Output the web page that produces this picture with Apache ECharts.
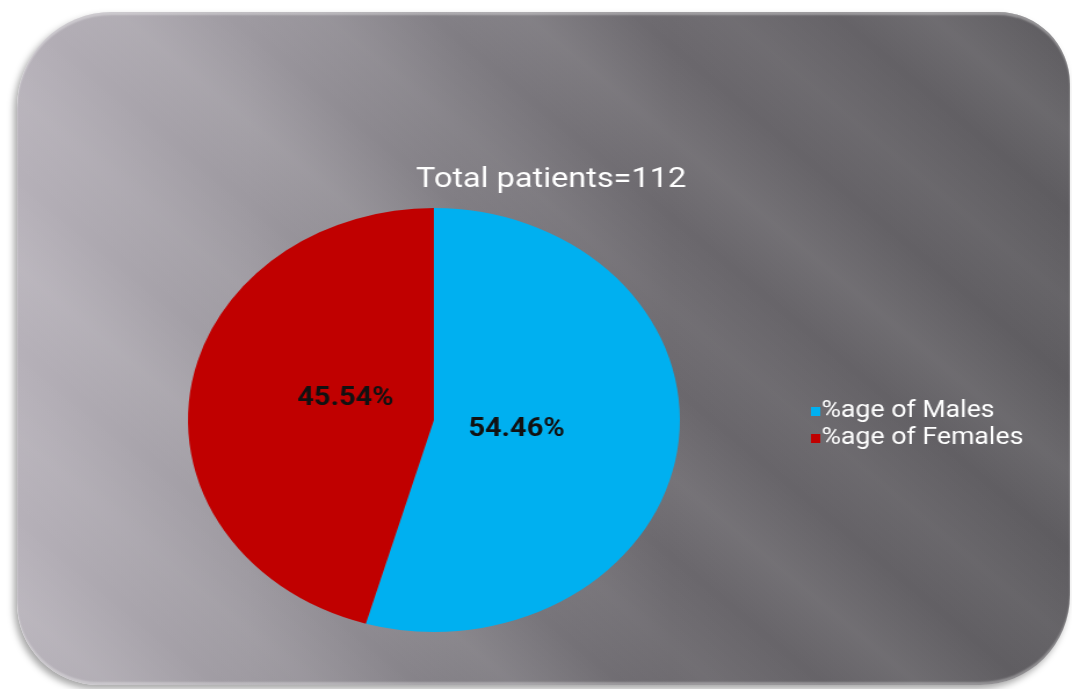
<!DOCTYPE html>
<html>
<head>
<meta charset="utf-8">
<script src="https://cdn.jsdelivr.net/npm/echarts@6/dist/echarts.min.js"></script>
<style>
  html, body { margin: 0; padding: 0; background: #ffffff; }
  #wrap { position: relative; width: 1072px; height: 689px; overflow: hidden; background: #fff; }
  #frame {
    position: absolute; left: 17px; top: 12px; width: 1053px; height: 673px;
    border-radius: 95px 72px 90px 82px;
    background:
      repeating-linear-gradient(40deg, rgba(255,255,255,0) 0px, rgba(255,255,255,0.08) 60px, rgba(255,255,255,0) 130px, rgba(255,255,255,0.05) 190px, rgba(255,255,255,0) 260px),
      linear-gradient(to right, #b6b1b9 0%, #9d99a0 22%, #807d83 42%, #6b686d 62%, #5e5c60 100%);
    box-shadow: -3px 4px 7px rgba(0,0,0,0.35), inset 0 3px 2px rgba(255,255,255,0.35), inset 0 -3px 2px rgba(255,255,255,0.3);
  }
  /* the source picture is stretched sideways, so the chart is too */
  #chartLayer { position: absolute; left: 0; top: 0; width: 924px; height: 689px;
    transform-origin: 0 0; transform: scaleX(1.1602); }
</style>
</head>
<body>
<div id="wrap">
  <div id="frame"></div>
  <div id="chartLayer"></div>
</div>
<script>
// patient counts (total 112)
var categories = ["%age of Males", "%age of Females"];
var patientCounts = [61, 51];
var sliceColors = ["#00b0f0", "#c00000"];

var total = 0;
for (var i = 0; i < patientCounts.length; i++) {
    total += patientCounts[i];
}

var myChart = echarts.init(document.getElementById("chartLayer"), null, {renderer: "canvas"});

var labelOffsets = [[-7, -1], [2, -10]];
var pieData = [];
for (var i = 0; i < categories.length; i++) {
    pieData.push({
        name: categories[i],
        value: patientCounts[i],
        itemStyle: {color: sliceColors[i]}
    });
}

var option = {
    animation: false,
    title: {
        text: "Total patients=" + total,
        left: 470,
        textAlign: "center",
        top: 161,
        textStyle: {color: "#ffffff", fontFamily: "Roboto", fontWeight: "normal", fontSize: 28}
    },
    legend: {
        orient: "vertical",
        left: 694,
        top: 395,
        itemWidth: 8,
        itemHeight: 9,
        itemGap: 4,
        icon: "rect",
        textStyle: {color: "#ffffff", fontFamily: "Roboto", fontSize: 23, padding: [0, 0, 0, -4]},
        data: categories
    },
    series: [{
        // slices
        type: "pie",
        center: [374, 420],
        radius: [0, 212],
        startAngle: 90,
        clockwise: true,
        silent: true,
        label: {show: false},
        labelLine: {show: false},
        itemStyle: {borderWidth: 0},
        data: pieData
    }, {
        // percent labels, placed a bit nearer the centre
        type: "pie",
        center: [374, 420],
        radius: [0, 152],
        startAngle: 90,
        clockwise: true,
        silent: true,
        legendHoverLink: false,
        itemStyle: {color: "rgba(0,0,0,0)"},
        label: {
            show: true,
            position: "inside",
            formatter: "{d}%",
            color: "#111111",
            fontFamily: "Roboto",
            fontWeight: "bold",
            fontSize: 25
        },
        labelLine: {show: false},
        data: patientCounts.map(function(v, i) {
            return {name: "lbl" + i, value: v, label: {offset: labelOffsets[i]}};
        })
    }]
};
myChart.setOption(option);
</script>
</body>
</html>
